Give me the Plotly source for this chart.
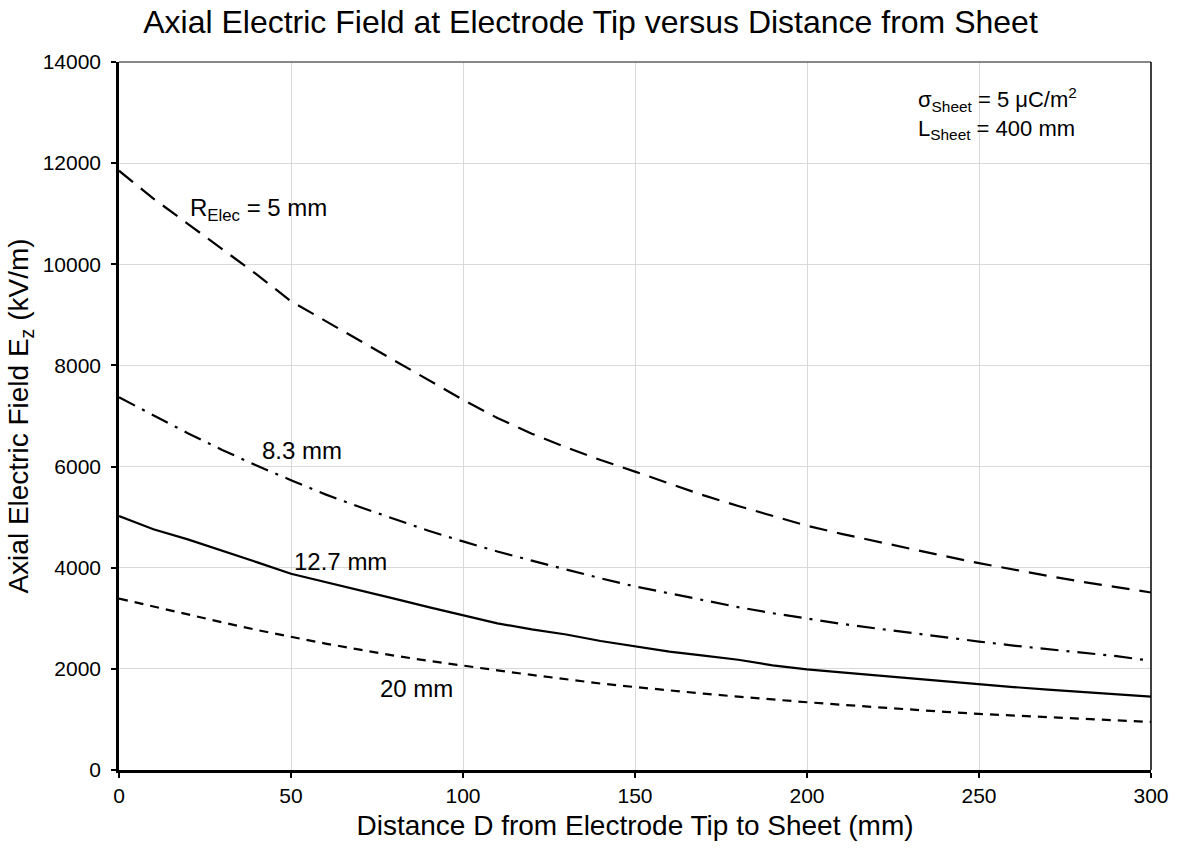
import plotly.graph_objects as go

# Distance from electrode tip to sheet (mm)
distance_mm = [0, 10, 20, 30, 40, 50, 60, 70, 80, 90, 100, 110, 120, 130, 140, 150,
               160, 170, 180, 190, 200, 210, 220, 230, 240, 250, 260, 270, 280, 290, 300]

# Axial electric field Ez (kV/m) for each electrode radius
ez_r5 = [11850, 11300, 10800, 10300, 9800, 9270, 8880, 8490, 8100, 7700, 7320, 6960, 6650,
         6380, 6130, 5900, 5660, 5430, 5220, 5020, 4830, 4670, 4520, 4370, 4230, 4090,
         3960, 3840, 3720, 3610, 3510]
ez_r8_3 = [7370, 7010, 6660, 6330, 6020, 5730, 5450, 5200, 4960, 4730, 4520, 4320, 4140,
           3960, 3790, 3630, 3490, 3350, 3220, 3100, 2990, 2890, 2800, 2710, 2620, 2540,
           2460, 2390, 2320, 2250, 2160]
ez_r12_7 = [5020, 4760, 4560, 4340, 4110, 3880, 3720, 3550, 3390, 3220, 3060, 2900, 2780,
            2680, 2550, 2440, 2340, 2260, 2180, 2070, 1990, 1930, 1870, 1810, 1750, 1690,
            1640, 1590, 1540, 1490, 1450]
ez_r20 = [3390, 3230, 3070, 2920, 2770, 2630, 2500, 2380, 2260, 2160, 2060, 1970, 1880,
          1790, 1710, 1640, 1570, 1510, 1450, 1390, 1340, 1290, 1240, 1200, 1150, 1110,
          1080, 1040, 1010, 980, 950]

x_ticks = [0, 50, 100, 150, 200, 250, 300]
x_tick_text = ["0", "50", "100", "150", "200", "250", "300"]
y_ticks = [0, 2000, 4000, 6000, 8000, 10000, 12000, 14000]
y_tick_text = ["0", "2000", "4000", "6000", "8000", "10000", "12000", "14000"]

FONT = "Liberation Sans, Arial, sans-serif"

series = [
    (ez_r5, "18px,10px"),
    (ez_r8_3, "18px,8px,3px,8px"),
    (ez_r12_7, "solid"),
    (ez_r20, "9px,7px"),
]

fig = go.Figure()
for values, dash in series:
    fig.add_trace(go.Scatter(
        x=distance_mm, y=values, mode="lines",
        line=dict(color="black", width=2.2, dash=dash),
        showlegend=False, hoverinfo="skip",
    ))

labels = [
    (40.5, 11080, "R<sub>Elec</sub> = 5 mm"),
    (53.3, 6310, "8.3 mm"),
    (64.3, 4120, "12.7 mm"),
    (86.6, 1620, "20 mm"),
]
for x, y, text in labels:
    fig.add_annotation(x=x, y=y, text=text, showarrow=False,
                       font=dict(family=FONT, size=24, color="black"),
                       xanchor="center", yanchor="middle")

fig.add_annotation(x=0.93, y=0.972, xref="paper", yref="paper",
                   text="σ<sub>Sheet</sub> = 5 μC/m<sup>2</sup><br>L<sub>Sheet</sub> = 400 mm",
                   showarrow=False, align="left", xanchor="right", yanchor="top",
                   font=dict(family=FONT, size=22, color="black"))

# Frame: grey top edge and thin black right edge
fig.add_shape(type="line", xref="x domain", yref="y domain", x0=0, x1=1, y0=1, y1=1,
              line=dict(color="#606060", width=1.5))
fig.add_shape(type="line", xref="x domain", yref="y domain", x0=1, x1=1, y0=0, y1=1,
              line=dict(color="black", width=1.5))

fig.update_layout(
    width=1181, height=849,
    margin=dict(l=119, r=26, t=62, b=77),
    paper_bgcolor="white", plot_bgcolor="white",
    title=dict(text="Axial Electric Field at Electrode Tip versus Distance from Sheet",
               x=0.5, xanchor="center", y=0.974, yanchor="middle",
               font=dict(family=FONT, size=32, color="black")),
    font=dict(family=FONT, color="black"),
    xaxis=dict(
        range=[0, 300], tickvals=x_ticks, ticktext=x_tick_text, ticks="outside",
        ticklen=5, tickwidth=2, tickcolor="black", showline=True, linecolor="black",
        linewidth=2.5, showgrid=True, gridcolor="#d9d9d9", gridwidth=1, zeroline=False,
        tickfont=dict(family=FONT, size=21, color="black"),
        title=dict(text="Distance D from Electrode Tip to Sheet (mm)",
                   font=dict(family=FONT, size=28, color="black"), standoff=10),
    ),
    yaxis=dict(
        range=[0, 14000], tickvals=y_ticks, ticktext=y_tick_text, ticks="outside",
        ticklen=5, tickwidth=2, tickcolor="black", showline=True, linecolor="black",
        linewidth=2.5, showgrid=True, gridcolor="#d9d9d9", gridwidth=1, zeroline=False,
        ticklabelstandoff=6,
        tickfont=dict(family=FONT, size=21, color="black"),
        title=dict(text="Axial Electric Field E<sub>z</sub> (kV/m)",
                   font=dict(family=FONT, size=28, color="black"), standoff=6),
    ),
)

fig.write_html("out.html")
